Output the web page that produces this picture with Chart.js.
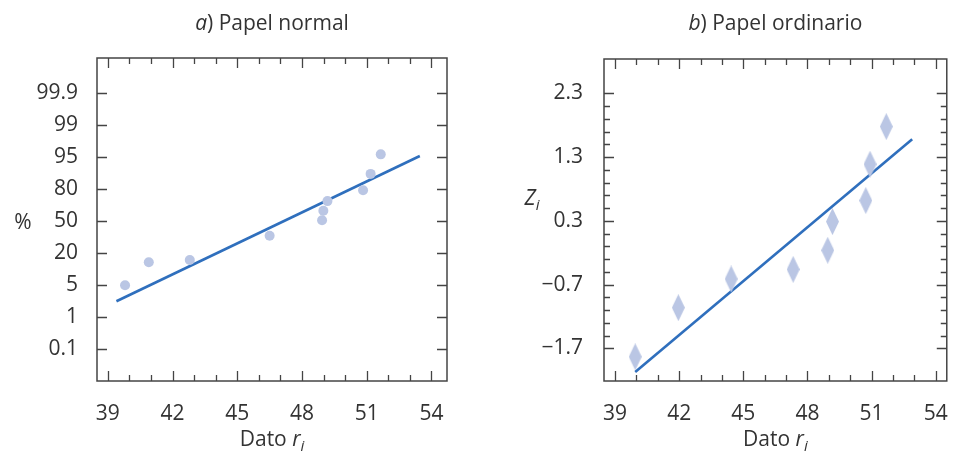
<!DOCTYPE html>
<html>
<head>
<meta charset="utf-8">
<script src="https://cdn.jsdelivr.net/npm/chart.js@4"></script>
<style>
  html, body { margin: 0; padding: 0; background: #fff; }
  .wrap { display: flex; width: 960px; height: 451px; }
  .box { position: relative; width: 480px; height: 451px; }
</style>
</head>
<body>
<div class="wrap">
  <div class="box"><canvas id="normalChart"></canvas></div>
  <div class="box"><canvas id="ordinaryChart"></canvas></div>
</div>
<script>
// a) Papel normal -- y is the position on the probability paper (0 = 0.1 %, 8 = 99.9 %)
const normalX = [39.8, 40.9, 42.8, 46.5, 48.93, 48.99, 49.18, 50.83, 51.18, 51.65];
const normalPos = [2.0, 2.72, 2.79, 3.55, 4.03, 4.33, 4.63, 4.97, 5.48, 6.09];
const normalFitX = [39.4, 53.46];
const normalFitPos = [1.5, 6.04];
const probLabels = ['0.1', '1', '5', '20', '50', '80', '95', '99', '99.9'];

// b) Papel ordinario
const ordX = [39.94, 41.96, 44.43, 47.33, 48.95, 49.17, 50.73, 50.93, 51.69];
const ordZ = [-1.83, -1.06, -0.61, -0.46, -0.16, 0.29, 0.62, 1.19, 1.78];
const ordFitX = [39.94, 52.9];
const ordFitZ = [-2.07, 1.58];
const zLabels = [-1.7, -0.7, 0.3, 1.3, 2.3];

const xLabels = [39, 42, 45, 48, 51, 54];

const FONT = '"Open Sans", "DejaVu Sans", sans-serif';
const TEXT = '#333';
const MARK = '#bac6e4';
const LINE = '#2f6fbd';

// minor ticks (axis decoration only)
const xMinor = [];
for (let v = 39; v <= 54; v++) xMinor.push(v);
const zMinor = [];
for (let i = 0; i <= 20; i++) zMinor.push(Math.round((-1.7 + i * 0.2) * 10) / 10);

// tall diamond marker
const diamond = document.createElement('canvas');
diamond.width = 13;
diamond.height = 27;
(function () {
    const c = diamond.getContext('2d');
    c.fillStyle = MARK;
    c.beginPath();
    c.moveTo(6.5, 0);
    c.lineTo(13, 13.5);
    c.lineTo(6.5, 27);
    c.lineTo(0, 13.5);
    c.closePath();
    c.fill();
})();

function drawParts(ctx, parts, cx, cy, size) {
    const fontOf = p => (p.italic ? 'italic ' : '') + Math.round(p.sub ? size * 0.7 : size) + 'px ' + FONT;
    let total = 0;
    parts.forEach(p => { ctx.font = fontOf(p); total += ctx.measureText(p.text).width; });
    let x = cx - total / 2;
    ctx.textBaseline = 'alphabetic';
    ctx.textAlign = 'left';
    ctx.fillStyle = TEXT;
    parts.forEach(p => {
        ctx.font = fontOf(p);
        ctx.fillText(p.text, x, cy + (p.sub ? size * 0.25 : 0));
        x += ctx.measureText(p.text).width;
    });
}

// frame with inward ticks on all four sides, and the captions
const framePlugin = {
    id: 'frame',
    afterDraw(chart, args, opts) {
        const ctx = chart.ctx;
        const a = chart.chartArea;
        const xs = chart.scales.x, ys = chart.scales.y;
        ctx.save();
        ctx.strokeStyle = '#444';
        ctx.lineWidth = 1.5;
        ctx.strokeRect(a.left, a.top, a.right - a.left, a.bottom - a.top);
        ctx.lineWidth = 1.3;
        ctx.beginPath();
        opts.xTicks.forEach(v => {
            const px = Math.round(xs.getPixelForValue(v)) + 0.5;
            const len = opts.xMajor.includes(v) ? 10 : 6;
            ctx.moveTo(px, a.bottom); ctx.lineTo(px, a.bottom - len);
            ctx.moveTo(px, a.top); ctx.lineTo(px, a.top + len);
        });
        opts.yTicks.forEach(v => {
            const py = Math.round(ys.getPixelForValue(v)) + 0.5;
            const len = opts.yMajor.includes(v) ? 10 : 6;
            ctx.moveTo(a.left, py); ctx.lineTo(a.left + len, py);
            ctx.moveTo(a.right, py); ctx.lineTo(a.right - len, py);
        });
        ctx.stroke();

        const mid = (a.left + a.right) / 2;
        drawParts(ctx, opts.title, mid, 30, 21);
        drawParts(ctx, opts.xTitle, mid, 446, 21);
        drawParts(ctx, opts.yTitle.parts, opts.yTitle.x, opts.yTitle.y, 21);
        ctx.restore();
    }
};

function xScale(min, max) {
    return {
        type: 'linear', min: min, max: max,
        afterBuildTicks: s => { s.ticks = xLabels.map(v => ({ value: v })); },
        afterFit: s => { s.height = 70; },
        grid: { display: false }, border: { display: false },
        ticks: { color: TEXT, font: { family: FONT, size: 21 }, padding: 12, maxRotation: 0 }
    };
}

const normalChart = new Chart(document.getElementById('normalChart'), {
    type: 'scatter',
    data: {
        datasets: [
            {
                data: normalX.map((x, i) => ({ x: x, y: normalPos[i] })),
                backgroundColor: MARK, borderWidth: 0, pointRadius: 5, pointHoverRadius: 5
            },
            {
                type: 'line',
                data: normalFitX.map((x, i) => ({ x: x, y: normalFitPos[i] })),
                borderColor: LINE, borderWidth: 2.6, pointRadius: 0, fill: false
            }
        ]
    },
    options: {
        responsive: true,
        maintainAspectRatio: false,
        animation: false,
        layout: { padding: { left: 0, top: 58, right: 33, bottom: 0 } },
        scales: {
            x: xScale(38.5, 54.72),
            y: {
                type: 'linear', min: -0.99, max: 9.1,
                afterBuildTicks: s => { s.ticks = probLabels.map((l, i) => ({ value: i })); },
                afterFit: s => { s.width = 97; },
                grid: { display: false }, border: { display: false },
                ticks: {
                    color: TEXT, font: { family: FONT, size: 21 }, padding: 11,
                    callback: v => probLabels[v]
                }
            }
        },
        plugins: {
            legend: { display: false },
            tooltip: { enabled: false },
            frame: {
                xTicks: xMinor, xMajor: xLabels,
                yTicks: probLabels.map((l, i) => i), yMajor: probLabels.map((l, i) => i),
                title: [{ text: 'a', italic: true }, { text: ') Papel normal' }],
                xTitle: [{ text: 'Dato ' }, { text: 'r', italic: true }, { text: 'i', italic: true, sub: true }],
                yTitle: { parts: [{ text: '%' }], x: 23, y: 229 }
            }
        }
    },
    plugins: [framePlugin]
});

const ordinaryChart = new Chart(document.getElementById('ordinaryChart'), {
    type: 'scatter',
    data: {
        datasets: [
            {
                data: ordX.map((x, i) => ({ x: x, y: ordZ[i] })),
                pointStyle: diamond, pointRadius: 8, pointHoverRadius: 8
            },
            {
                type: 'line',
                data: ordFitX.map((x, i) => ({ x: x, y: ordFitZ[i] })),
                borderColor: LINE, borderWidth: 2.6, pointRadius: 0, fill: false
            }
        ]
    },
    options: {
        responsive: true,
        maintainAspectRatio: false,
        animation: false,
        layout: { padding: { left: 0, top: 59, right: 10, bottom: 0 } },
        scales: {
            x: xScale(38.48, 54.52),
            y: {
                type: 'linear', min: -2.21, max: 2.84,
                afterBuildTicks: s => { s.ticks = zLabels.map(v => ({ value: v })); },
                afterFit: s => { s.width = 124; },
                grid: { display: false }, border: { display: false },
                ticks: {
                    color: TEXT, font: { family: FONT, size: 21 }, padding: 13,
                    callback: v => String(v).replace('-', '\u2212')
                }
            }
        },
        plugins: {
            legend: { display: false },
            tooltip: { enabled: false },
            frame: {
                xTicks: xMinor, xMajor: xLabels,
                yTicks: zMinor, yMajor: zLabels,
                title: [{ text: 'b', italic: true }, { text: ') Papel ordinario' }],
                xTitle: [{ text: 'Dato ' }, { text: 'r', italic: true }, { text: 'i', italic: true, sub: true }],
                yTitle: { parts: [{ text: 'Z', italic: true }, { text: 'i', italic: true, sub: true }], x: 52, y: 205 }
            }
        }
    },
    plugins: [framePlugin]
});
</script>
</body>
</html>
